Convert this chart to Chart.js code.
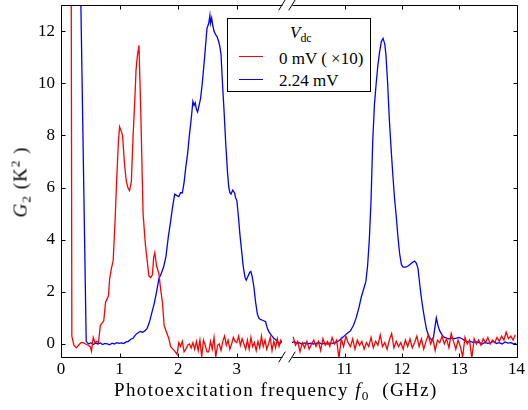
<!DOCTYPE html>
<html>
<head>
<meta charset="utf-8">
<script src="https://cdn.jsdelivr.net/npm/chart.js@4.4.1/dist/chart.umd.min.js"></script>
<style>
  body { margin: 0; background: #fff; }
  #wrap { position: relative; width: 528px; height: 410px; overflow: hidden; font-family: "Liberation Serif", serif; color: #000; }
  canvas { position: absolute; top: 0; }
  #leftChart { left: 0; }
  #rightChart { left: 288px; }
  #xtitle { position: absolute; left: 114px; top: 380px; font-size: 19px; line-height: 19px; white-space: nowrap; letter-spacing: 1.4px; }
  #ytitle { position: absolute; left: 20px; top: 182px; font-size: 19px; line-height: 19px; white-space: nowrap; letter-spacing: 1px;
            transform: translate(-50%, -50%) rotate(-90deg); }
  sub, sup { font-size: 70%; line-height: 0; }
  sub { vertical-align: -4px; }
  sup { vertical-align: 7px; }
  #legend { position: absolute; left: 227px; top: 18px; width: 144px; height: 74px; box-sizing: border-box;
            border: 1px solid #000; background: #fff; font-size: 17px; line-height: 17px; }
  #legend .t { position: absolute; white-space: nowrap; }
  #legend .sw { position: absolute; left: 11px; width: 24px; height: 0; border-top: 1.3px solid; }
</style>
</head>
<body>
<div id="wrap">
  <canvas id="leftChart" width="288" height="410"></canvas>
  <canvas id="rightChart" width="240" height="410"></canvas>
  <div id="ytitle"><i>G</i><sub>2</sub> (K<sup>2</sup> )</div>
  <div id="xtitle">Photoexcitation frequency <i>f</i><sub>0</sub> &nbsp;(GHz)</div>
  <div id="legend"></div>
</div>
<script>
// series names and colours
const seriesNames = ['0 mV ( \u00d710)', '2.24 mV'];
const seriesColors = ['#ff0000', '#0000ff'];

// tick positions
const yTicks = [0, 2, 4, 6, 8, 10, 12];
const leftTicks = [0, 1, 2, 3];
const rightTicks = [11, 12, 13, 14];

// 0 mV (x10), low frequency part
const redLeftF = [0.17, 0.185, 0.22, 0.26, 0.30, 0.34, 0.38, 0.42, 0.46, 0.50, 0.52, 0.55, 0.58, 0.61, 0.64,
  0.67, 0.70, 0.73, 0.76, 0.78, 0.81, 0.83, 0.86, 0.89, 0.92, 0.95, 0.98, 1.00, 1.02, 1.05, 1.08, 1.11, 1.14,
  1.17, 1.20, 1.23, 1.26, 1.28, 1.30, 1.33, 1.36, 1.40, 1.44, 1.47, 1.50, 1.53, 1.56, 1.58, 1.60, 1.63, 1.67,
  1.70, 1.73, 1.76, 1.80, 1.84, 1.87, 1.91, 1.95, 1.98,
  2.01, 2.04, 2.07, 2.10, 2.13, 2.16, 2.19, 2.22, 2.25, 2.28, 2.31, 2.34, 2.37, 2.40, 2.43, 2.46, 2.49, 2.52,
  2.55, 2.58, 2.61, 2.64, 2.67, 2.70, 2.73, 2.76, 2.79, 2.82, 2.85, 2.88, 2.91, 2.94, 2.97, 3.00, 3.03, 3.06,
  3.09, 3.12, 3.15, 3.18, 3.21, 3.24, 3.27, 3.30, 3.33, 3.36, 3.39, 3.42, 3.45, 3.48, 3.51, 3.54, 3.57, 3.60,
  3.63, 3.66, 3.69, 3.72, 3.75, 3.77];
const redLeftG = [20, 0.3, -0.05, -0.15, -0.05, 0.05, 0.05, 0.0, -0.05, -0.1, -0.28, 0.25, 0.05, 0.1, 0.05,
  0.7, 0.8, 0.9, 1.6, 1.7, 1.85, 2.5, 2.9, 3.2, 4.6, 6.3, 7.8, 8.33, 8.2, 8.0, 7.0, 6.3, 6.0,
  5.88, 6.23, 8.0, 9.4, 10.5, 11.0, 11.45, 9.0, 5.0, 3.8, 3.2, 2.6, 2.55, 2.65, 3.3, 3.5, 3.0, 2.7,
  2.1, 1.6, 0.7, 0.45, 0.2, -0.1, -0.2, -0.3, -0.4,
  0.05, -0.1, 0.1, -0.3, -0.2, -0.05, 0.0, -0.15, 0.05, -0.2, 0.1, -0.25, 0.15, -0.5, 0.15, -0.05, -0.3, -0.3,
  0.1, -0.2, 0.25, -0.5, -0.05, 0.0, -0.25, 0.1, 0.3, -0.05, 0.15, -0.2, 0.0, 0.25, 0.1, 0.05, 0.3, -0.05,
  0.2, 0.0, -0.2, 0.15, -0.2, 0.25, -0.1, 0.05, -0.25, 0.1, -0.15, 0.3, -0.1, 0.15, -0.2, 0.0, 0.25, -0.25,
  0.1, -0.15, 0.2, -0.1, 0.15, 0.05];

// 2.24 mV, low frequency part
const blueLeftF = [0.335, 0.43, 0.47, 0.51, 0.55, 0.59, 0.63, 0.67, 0.71, 0.75, 0.79, 0.83, 0.87, 0.91, 0.95,
  0.99, 1.03, 1.07, 1.11, 1.15, 1.19, 1.23, 1.27, 1.31, 1.35, 1.39, 1.43, 1.47, 1.51, 1.55, 1.59, 1.63, 1.67,
  1.71, 1.75, 1.79, 1.83, 1.87, 1.90, 1.94, 1.97, 2.01, 2.04, 2.07, 2.10, 2.13, 2.16, 2.19, 2.22, 2.25, 2.27,
  2.29, 2.31, 2.33, 2.36, 2.38, 2.41, 2.45, 2.49, 2.52, 2.54, 2.55, 2.57, 2.59, 2.61, 2.64, 2.66, 2.69, 2.71,
  2.73, 2.75, 2.78, 2.81, 2.84, 2.86, 2.88, 2.90, 2.93, 2.96, 2.98, 3.00, 3.03, 3.05, 3.08, 3.11, 3.14, 3.16,
  3.18, 3.20, 3.22, 3.24, 3.26, 3.29, 3.32, 3.35, 3.38, 3.41, 3.45, 3.49, 3.52, 3.55, 3.59, 3.63, 3.67, 3.71,
  3.74, 3.77];
const blueLeftG = [13.6, 0.1, 0.0, 0.05, -0.02, 0.03, 0.0, 0.04, -0.02, 0.02, 0.0, -0.03, 0.03, 0.0, 0.05,
  0.02, 0.04, 0.02, 0.08, 0.1, 0.18, 0.22, 0.35, 0.42, 0.48, 0.45, 0.5, 0.6, 0.85, 1.2, 1.55, 2.0, 2.5,
  2.7, 2.95, 3.35, 4.1, 4.7, 5.2, 5.75, 5.7, 5.65, 5.8, 5.8, 6.2, 6.8, 7.3, 8.0, 8.6, 9.3, 9.15,
  9.25, 9.0, 8.9, 9.2, 9.4, 10.0, 11.0, 12.1, 12.3, 12.6, 12.3, 12.5, 12.2, 12.0, 11.85, 11.8, 11.6, 11.4,
  11.1, 10.2, 9.0, 7.7, 6.6, 6.05, 5.8, 5.75, 5.9, 5.8, 5.6, 5.5, 4.8, 4.25, 3.6, 2.95, 2.55, 2.45,
  2.55, 2.65, 2.75, 2.78, 2.6, 2.2, 1.6, 1.15, 0.97, 0.93, 0.9, 0.85, 0.6, 0.45, 0.33, 0.22, 0.15, 0.05,
  0.03, 0.08];

// 0 mV (x10), high frequency part
const redRightF = [10.10, 10.14, 10.18, 10.22, 10.26, 10.30, 10.34, 10.38, 10.42, 10.46, 10.50, 10.54, 10.58,
  10.62, 10.66, 10.70, 10.74, 10.78, 10.82, 10.86, 10.90, 10.94, 10.98, 11.02, 11.06, 11.10, 11.14, 11.18,
  11.22, 11.26, 11.30, 11.34, 11.38, 11.42, 11.46, 11.50, 11.54, 11.58, 11.62, 11.66, 11.70, 11.74, 11.78,
  11.82, 11.86, 11.90, 11.94, 11.98, 12.02, 12.06, 12.10, 12.14, 12.18, 12.22, 12.26, 12.30, 12.34, 12.38,
  12.42, 12.46, 12.50, 12.54, 12.58, 12.62, 12.66, 12.70, 12.74, 12.78, 12.82, 12.86, 12.90, 12.94, 12.98,
  13.02, 13.06, 13.10, 13.14, 13.18, 13.22, 13.26, 13.30, 13.34, 13.38, 13.42, 13.46, 13.50, 13.54, 13.58,
  13.62, 13.66, 13.70, 13.74, 13.78, 13.82, 13.86, 13.90, 13.94, 13.98];
const redRightG = [0.27, -0.05, 0.1, -0.3, 0.05, -0.15, 0.1, -0.2, 0.0, 0.15, -0.1, 0.1, -0.25,
  0.2, -0.05, 0.1, -0.1, 0.25, 0.0, 0.15, -0.55, 0.2, -0.1, 0.3, 0.05, -0.1, 0.2, -0.2,
  0.15, -0.05, 0.1, -0.2, 0.05, -0.1, 0.25, -0.15, 0.1, -0.05, 0.35, -0.1, 0.05, -0.2, 0.15,
  0.4, -0.15, 0.1, -0.1, 0.05, -0.2, 0.15, -0.1, 0.2, -0.15, 0.05, 0.3, -0.1, 0.2, -0.2,
  0.1, 0.35, 0.0, 0.2, -0.25, 0.15, 0.05, 0.3, 0.0, 0.2, -0.15, 0.4, 0.1, -0.2, 0.15,
  -0.1, -0.5, 0.25, 0.0, 0.15, -0.55, 0.2, 0.0, 0.15, -0.05, 0.2, 0.05, 0.25, 0.0, 0.15,
  0.05, 0.25, 0.1, 0.3, 0.15, 0.45, 0.2, 0.3, 0.15, 0.35];

// 2.24 mV, high frequency part
const blueRightF = [10.08, 10.12, 10.16, 10.20, 10.25, 10.30, 10.35, 10.40, 10.45, 10.50, 10.55, 10.60, 10.65,
  10.70, 10.75, 10.80, 10.85, 10.90, 10.95, 11.00, 11.05, 11.10, 11.15, 11.20, 11.25, 11.29, 11.33, 11.37,
  11.40, 11.43, 11.46, 11.49, 11.52, 11.55, 11.58, 11.61, 11.64, 11.67, 11.70, 11.72, 11.75, 11.78, 11.81,
  11.84, 11.87, 11.90, 11.93, 11.96, 11.99, 12.02, 12.06, 12.10, 12.14, 12.18, 12.22, 12.25, 12.28, 12.31,
  12.34, 12.37, 12.40, 12.43, 12.46, 12.49, 12.52, 12.55, 12.58, 12.60, 12.63, 12.66, 12.70, 12.74, 12.78,
  12.82, 12.86, 12.90, 12.95, 13.00, 13.05, 13.10, 13.15, 13.20, 13.25, 13.30, 13.35, 13.40, 13.45, 13.50,
  13.55, 13.60, 13.65, 13.70, 13.75, 13.80, 13.85, 13.90, 13.95, 14.00];
const blueRightG = [0.05, 0.1, 0.02, 0.05, 0.0, 0.04, 0.0, 0.03, 0.0, 0.02, 0.05, 0.0, 0.03,
  0.0, 0.04, 0.02, 0.06, 0.12, 0.22, 0.32, 0.42, 0.5, 0.7, 1.0, 1.4, 1.8, 2.1, 2.4,
  3.0, 4.0, 5.5, 7.8, 9.2, 10.0, 10.7, 11.2, 11.6, 11.72, 11.5, 11.1, 10.0, 8.6, 7.5,
  6.5, 5.6, 4.9, 4.1, 3.45, 3.05, 2.95, 2.95, 2.98, 3.05, 3.12, 3.18, 3.1, 2.9, 2.3,
  1.75, 1.3, 0.9, 0.55, 0.35, 0.22, 0.15, 0.25, 0.7, 1.0, 0.7, 0.5, 0.35, 0.25, 0.22,
  0.2, 0.23, 0.2, 0.22, 0.25, 0.2, 0.12, 0.08, 0.1, 0.05, 0.08, 0.05, 0.0, 0.06, 0.02,
  0.05, 0.1, 0.02, 0.05, 0.0, 0.08, 0.03, 0.05, 0.0, 0.02];

const tickFont = { family: 'Liberation Serif', size: 17 };

function points(fs, gs) {
  return fs.map((f, i) => ({ x: f, y: gs[i] }));
}

function lineSet(label, color, fs, gs) {
  return {
    label: label,
    data: points(fs, gs),
    borderColor: color,
    borderWidth: 1.3,
    pointRadius: 0,
    tension: 0,
    fill: false
  };
}

const px = v => Math.round(v) + 0.5;

// spines, inward ticks and the // break marks
function framePlugin(side) {
  return {
    id: 'frame_' + side,
    afterDraw(chart) {
      const { ctx, chartArea: a, scales: { x, y } } = chart;
      const L = px(a.left), R = px(a.right), T = px(a.top), B = px(a.bottom);
      ctx.save();
      ctx.strokeStyle = '#000';
      ctx.lineWidth = 1;
      ctx.beginPath();
      ctx.moveTo(L, T); ctx.lineTo(R, T);
      ctx.moveTo(L, B); ctx.lineTo(R, B);
      const sx = side === 'left' ? L : R;
      ctx.moveTo(sx, T); ctx.lineTo(sx, B);
      x.ticks.forEach(t => {
        const xp = px(x.getPixelForValue(t.value));
        ctx.moveTo(xp, T); ctx.lineTo(xp, T + 4);
        ctx.moveTo(xp, B); ctx.lineTo(xp, B - 4);
      });
      const dir = side === 'left' ? 4 : -4;
      yTicks.forEach(v => {
        const yp = px(y.getPixelForValue(v));
        ctx.moveTo(sx, yp); ctx.lineTo(sx + dir, yp);
      });
      const bx = side === 'left' ? a.right : a.left;
      [a.top, a.bottom].forEach(by => {
        ctx.moveTo(bx - 3.3, by + 5.3); ctx.lineTo(bx + 3.3, by - 5.3);
      });
      ctx.stroke();
      ctx.restore();
    }
  };
}

function xScale(min, max, ticks) {
  return {
    type: 'linear',
    min: min,
    max: max,
    afterBuildTicks: s => { s.ticks = ticks.map(v => ({ value: v })); },
    afterFit: s => { s.height = 53; s.paddingLeft = 0; s.paddingRight = 0; },
    grid: { display: false, drawTicks: false },
    border: { display: false },
    ticks: { font: tickFont, color: '#000', padding: 2, maxRotation: 0, autoSkip: false }
  };
}

function yScale(show) {
  return {
    type: 'linear',
    min: -0.5,
    max: 13,
    display: show,
    afterBuildTicks: s => { s.ticks = yTicks.map(v => ({ value: v })); },
    afterFit: s => { s.width = show ? 61 : 0; s.paddingTop = 0; s.paddingBottom = 0; },
    grid: { display: false, drawTicks: false },
    border: { display: false },
    ticks: { font: tickFont, color: '#000', padding: 6 }
  };
}

function baseOptions(xs, ys, padding) {
  return {
    responsive: false,
    devicePixelRatio: 1,
    animation: false,
    layout: { padding: padding },
    plugins: { legend: { display: false }, tooltip: { enabled: false } },
    scales: { x: xs, y: ys }
  };
}

new Chart(document.getElementById('leftChart'), {
  type: 'line',
  data: {
    datasets: [
      lineSet(seriesNames[0], seriesColors[0], redLeftF, redLeftG),
      lineSet(seriesNames[1], seriesColors[1], blueLeftF, blueLeftG)
    ]
  },
  options: baseOptions(xScale(0, 3.77, leftTicks), yScale(true), { top: 5, right: 6, left: 0, bottom: 0 }),
  plugins: [framePlugin('left')]
});

new Chart(document.getElementById('rightChart'), {
  type: 'line',
  data: {
    datasets: [
      lineSet(seriesNames[0], seriesColors[0], redRightF, redRightG),
      lineSet(seriesNames[1], seriesColors[1], blueRightF, blueRightG)
    ]
  },
  options: baseOptions(xScale(10.08, 14, rightTicks), yScale(false), { top: 5, right: 11.5, left: 4, bottom: 0 }),
  plugins: [framePlugin('right')]
});

// legend box
const legend = document.getElementById('legend');
legend.innerHTML = '<span class="t" style="left:62px;top:5px"><i>V</i><sub>dc</sub></span>';
seriesNames.forEach((name, i) => {
  const top = [31, 53][i];
  const mid = [37, 60][i];
  legend.innerHTML += '<span class="sw" style="top:' + mid + 'px;border-color:' + seriesColors[i] + '"></span>' +
    '<span class="t" style="left:51px;top:' + top + 'px">' + name + '</span>';
});
</script>
</body>
</html>
